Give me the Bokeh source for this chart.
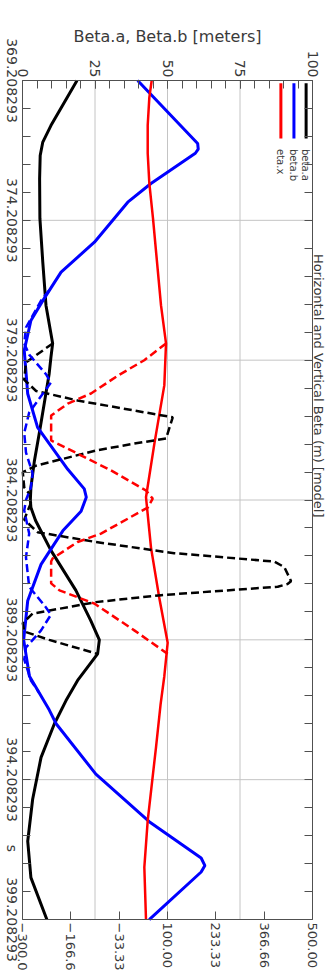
import math
from bokeh.plotting import figure
from bokeh.models import Range1d, LinearAxis, FixedTicker
from bokeh.core.properties import value
from bokeh.embed import file_html
from bokeh.resources import INLINE

# ---------------- data ----------------
S_TICKS = [369.208293, 374.208293, 379.208293, 384.208293, 389.208293, 394.208293, 399.208293]
S_TICK_LABELS = ["369.208293", "374.208293", "379.208293", "384.208293",
                 "389.208293", "394.208293", "399.208293"]
S_MINOR_STEP = 1.0
BETA_TICKS = [0, 25, 50, 75, 100]
BETA_MINOR_STEP = 5
ETA_TICKS = [-300.0, -166.667, -33.333, 100.0, 233.333, 366.667, 500.0]
ETA_TICK_LABELS = ["\u2212300.0", "\u2212166.6", "\u221233.33", "100.00", "233.33", "366.66", "500.00"]

# beta.a (solid black)
s_beta_a = [369.21, 370.01, 370.82, 371.41, 371.89, 372.71, 374.14, 375.71, 377.25, 378.61,
            379.11, 379.69, 381.81, 382.81, 383.76, 384.21, 384.48, 384.94, 386.01, 387.44,
            388.51, 389.21, 389.71, 390.66, 391.38, 392.21, 393.41, 394.91, 396.41, 397.71, 399.21]
beta_a = [18.8, 14.3, 9.8, 7.0, 6.1, 5.9, 6.0, 7.0, 8.1, 10.4,
          9.8, 9.2, 5.8, 4.1, 2.9, 2.7, 2.9, 4.5, 9.8, 18.4,
          23.5, 26.5, 25.9, 19.0, 15.0, 11.0, 6.4, 3.5, 1.8, 2.9, 8.4]

# beta.b (solid blue)
s_beta_b = [369.21, 371.46, 371.66, 371.81, 372.89, 373.56, 374.99, 376.06, 377.08, 377.79,
            378.86, 380.41, 381.61, 383.11, 383.81, 384.11, 384.61, 385.31, 386.51, 387.81,
            389.21, 390.51, 391.71, 392.21, 394.01, 395.71, 397.01, 397.28, 397.51, 399.21]
beta_b = [39.7, 60.4, 60.6, 59.6, 44.3, 36.3, 24.8, 13.3, 7.0, 2.9,
          0.6, 1.8, 5.2, 15.6, 21.3, 22.0, 20.2, 13.9, 6.4, 1.8,
          0.4, 2.4, 9.2, 11.6, 25.3, 43.7, 61.6, 62.9, 61.6, 43.7]

# eta.x (solid red)
s_eta_x = [369.21, 369.81, 370.81, 371.81, 372.89, 374.14, 377.25, 378.61, 380.11, 382.21,
           384.11, 385.91, 387.71, 389.31, 390.51, 391.51, 393.05, 395.67, 397.34, 399.21]
eta_x = [56.4, 49.9, 45.4, 45.4, 49.9, 60.0, 82.1, 95.9, 91.2, 63.6,
         40.7, 54.5, 77.4, 100.5, 91.2, 81.0, 68.3, 45.4, 36.1, 40.7]

# dashed black (beta)
s_beta_a_d = [378.61, 379.29, 379.91, 380.31, 380.65, 381.01, 381.25, 382.01, 382.19, 382.44,
              382.98, 383.21, 383.76, 383.98, 384.31, 384.91, 385.36, 385.71, 386.11, 386.41,
              386.61, 387.11, 387.21, 387.31, 387.61, 387.86, 388.27, 388.61, 388.91, 389.21, 389.71]
beta_a_d = [10.4, 1.2, 0.6, 4.7, 19.0, 38.6, 51.8, 49.5, 38.6, 25.3,
            4.7, 0.1, 0.6, 2.3, 2.9, 0.6, 5.2, 25.3, 52.3, 86.8,
            90.3, 92.6, 91.4, 88.0, 47.8, 25.3, 3.5, 0.1, 0.6, 9.2, 25.9]

# dashed blue (beta)
s_beta_b_d = [376.71, 377.08, 378.04, 378.61, 379.01, 379.71, 380.01, 380.58, 381.08, 381.81,
              382.51, 383.26, 383.76, 384.21, 384.58, 385.41, 386.26, 387.31, 388.05, 388.31,
              388.87, 389.48, 389.91, 390.66, 391.11]
beta_b_d = [9.2, 6.4, 1.2, 0.6, 2.3, 8.1, 9.8, 5.8, 2.3, 0.6,
            1.2, 3.5, 2.9, 1.2, 0.6, 2.3, 1.2, 2.3, 8.1, 9.8,
            6.4, 1.2, 0.6, 2.9, 5.8]

# dashed red (eta)
s_eta_x_d = [378.61, 379.21, 379.76, 380.40, 380.76, 381.19, 382.08, 382.55, 383.15, 383.87,
             384.16, 384.48, 385.41, 385.71, 386.30, 386.41, 387.19, 387.44, 387.91, 388.87, 389.71]
eta_x_d = [95.9, 36.0, -37.0, -111.0, -175.0, -221.0, -221.0, -148.0, -56.0, 40.7,
           59.2, 45.4, -83.5, -148.0, -217.0, -221.0, -221.0, -198.0, -102.0, 8.4, 100.5]

LEGEND_NAMES = ["beta.a", "beta.b", "eta.x"]
LEGEND_COLORS = ["#000000", "#0000ff", "#ff0000"]

TITLE = "Horizontal and Vertical Beta (m) [model]"
XLABEL = "Beta.a, Beta.b [meters]"
SLABEL = "s"

# ---------------- layout (pixels) ----------------
FONT = "DejaVu Sans"
TXT = "#3a3a3a"
AX = "#505050"
GRID = "#c4c4c4"
W, H = 326, 972
PL, PR, PT, PB = 22, 14, 80, 53          # plot box margins inside the canvas
ROT = -math.pi / 2                        # text read top-to-bottom

B0, B1 = BETA_TICKS[0], BETA_TICKS[-1]
E0, E1 = ETA_TICKS[0], ETA_TICKS[-1]
S_A, S_B = S_TICKS[0], S_TICKS[-1]
bx = (W - PL - PR) / (B1 - B0)            # px per beta unit
ex = (W - PL - PR) / (E1 - E0)            # px per eta unit
sy = (H - PT - PB) / (S_B - S_A)          # px per metre of s

# the frame covers the whole canvas; axes are pinned at the plot box edges
p = figure(width=W, height=H, output_backend="svg", toolbar_location=None, title=None,
           x_range=Range1d(B0 - PL / bx, B1 + PR / bx),
           y_range=Range1d(S_B + PB / sy, S_A - PT / sy),
           x_axis_location=None, y_axis_location=None,
           min_border_left=0, min_border_right=0, min_border_top=0, min_border_bottom=0)
p.extra_x_ranges = {"eta": Range1d(E0 - PL / ex, E1 + PR / ex)}
p.outline_line_color = None
p.background_fill_color = "white"
p.border_fill_color = "white"
p.xgrid.visible = False
p.ygrid.visible = False

s_all_ticks = [S_A + i * S_MINOR_STEP for i in range(31)]
b_minor = list(range(B0, B1 + 1, BETA_MINOR_STEP))


def style(ax, size="14px"):
    ax.major_tick_in = 8
    ax.major_tick_out = 0
    ax.minor_tick_in = 8
    ax.minor_tick_out = 0
    ax.axis_line_color = AX
    ax.major_tick_line_color = AX
    ax.minor_tick_line_color = AX
    ax.major_label_text_font = FONT
    ax.major_label_text_font_size = size
    ax.major_label_text_color = TXT
    ax.major_label_standoff = 3


# grid lines (drawn inside the plot box only)
p.segment(x0=BETA_TICKS[1:-1], y0=[S_A] * 3, x1=BETA_TICKS[1:-1], y1=[S_B] * 3,
          line_color=GRID, line_width=1)
p.segment(x0=[B0] * 5, y0=S_TICKS[1:-1], x1=[B1] * 5, y1=S_TICKS[1:-1],
          line_color=GRID, line_width=1)

top = LinearAxis(ticker=FixedTicker(ticks=BETA_TICKS, minor_ticks=b_minor),
                 fixed_location=S_A, bounds=(B0, B1))
style(top)
top.major_label_orientation = -math.pi / 2
top.axis_label = XLABEL
top.axis_label_text_font = FONT
top.axis_label_text_font_size = "16px"
top.axis_label_text_font_style = "normal"
top.axis_label_text_color = TXT
top.axis_label_standoff = 2
p.add_layout(top, "above")

left = LinearAxis(ticker=FixedTicker(ticks=[], minor_ticks=s_all_ticks),
                  fixed_location=B0, bounds=(S_A, S_B))
style(left)
p.add_layout(left, "left")

right = LinearAxis(ticker=FixedTicker(ticks=[], minor_ticks=s_all_ticks),
                   fixed_location=B1, bounds=(S_A, S_B))
style(right)
p.add_layout(right, "right")

bottom = LinearAxis(x_range_name="eta", ticker=FixedTicker(ticks=ETA_TICKS, minor_ticks=[]),
                    fixed_location=S_B, bounds=(E0, E1))
bottom.major_label_overrides = dict(zip(ETA_TICKS, ETA_TICK_LABELS))
style(bottom, "13px")
bottom.major_label_orientation = "vertical"
p.add_layout(bottom, "below")

# curves
p.line(beta_a, s_beta_a, line_color="#000000", line_width=3)
p.line(beta_b, s_beta_b, line_color="#0000ff", line_width=3)
p.line(eta_x, s_eta_x, line_color="#ff0000", line_width=2.5, x_range_name="eta")
p.line(beta_a_d, s_beta_a_d, line_color="#000000", line_width=2.5, line_dash="8 4")
p.line(beta_b_d, s_beta_b_d, line_color="#0000ff", line_width=2.5, line_dash="8 4")
p.line(eta_x_d, s_eta_x_d, line_color="#ff0000", line_width=2.5, line_dash="8 4", x_range_name="eta")

# legend (rotated, top-right of the plot box)
LEG_X = [97.8, 93.6, 89.1]
LEG_Y0 = S_A + 0.1
LEG_Y1 = S_A + 2.07
LEG_TY = S_A + 2.45
p.segment(x0=LEG_X, y0=[LEG_Y0] * 3, x1=LEG_X, y1=[LEG_Y1] * 3,
          line_color=LEGEND_COLORS, line_width=3)
p.text(x=[xx - 0.2 for xx in LEG_X], y=[LEG_TY] * 3, text=LEGEND_NAMES, angle=ROT,
       text_align="left", text_baseline="middle", text_font=value(FONT),
       text_font_size="10px", text_color=TXT)

# s tick labels (rotated), placed at the tick values through the y scale
SLAB_X = B0 - 11 / bx
p.text(x=[SLAB_X] * len(S_TICKS), y=S_TICKS, text=S_TICK_LABELS, angle=ROT,
       text_align="center", text_baseline="middle", text_font=value(FONT),
       text_font_size="14px", text_color=TXT)
p.text(x=[SLAB_X], y=[S_A + 27.46], text=[SLABEL], angle=ROT,
       text_align="center", text_baseline="middle", text_font=value(FONT),
       text_font_size="14px", text_color=TXT)

# title along the right edge
p.text(x=[B1 + 6.3 / bx], y=[S_A + 6.2], text=[TITLE], angle=ROT,
       text_align="left", text_baseline="middle", text_font=value(FONT),
       text_font_size="13px", text_color=TXT)

open("out.html", "w").write(file_html(p, INLINE))
